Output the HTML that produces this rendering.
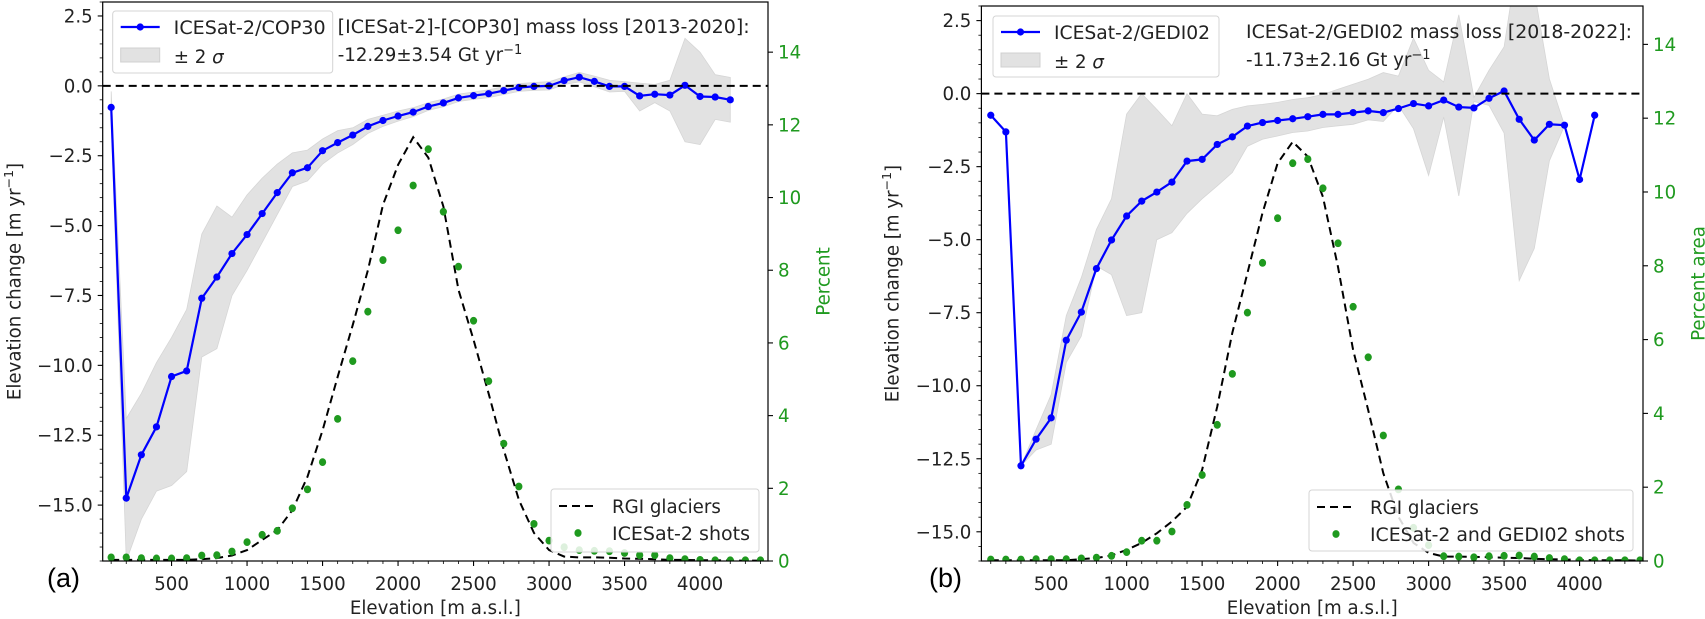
<!DOCTYPE html>
<html><head><meta charset="utf-8">
<style>
html,body{margin:0;padding:0;background:#fff;}
svg{display:block;font-family:"DejaVu Sans","Liberation Sans",sans-serif;}
</style></head>
<body>
<svg id="fig" width="1705" height="619" viewBox="0 0 1705 619" xmlns="http://www.w3.org/2000/svg"></svg>
<script>
// ---------- data ----------
const elevA = [100,200,300,400,500,600,700,800,900,1000,1100,1200,1300,1400,1500,1600,1700,1800,1900,2000,2100,2200,2300,2400,2500,2600,2700,2800,2900,3000,3100,3200,3300,3400,3500,3600,3700,3800,3900,4000,4100,4200];
const dhA = [-0.77,-14.75,-13.2,-12.2,-10.4,-10.2,-7.6,-6.84,-6.0,-5.32,-4.57,-3.82,-3.11,-2.93,-2.32,-2.03,-1.76,-1.45,-1.24,-1.08,-0.94,-0.74,-0.61,-0.43,-0.35,-0.28,-0.17,-0.06,-0.02,0.0,0.19,0.31,0.16,-0.02,-0.02,-0.36,-0.3,-0.33,0.02,-0.38,-0.4,-0.5];
const upA = [-0.2,-11.9,-11.0,-9.9,-9.0,-8.0,-5.3,-4.3,-4.7,-3.9,-3.3,-2.8,-2.4,-2.3,-1.9,-1.6,-1.5,-1.2,-1.05,-0.9,-0.78,-0.6,-0.47,-0.3,-0.22,-0.14,-0.03,0.08,0.12,0.15,0.32,0.48,0.35,0.2,0.15,0.1,0.05,0.2,1.7,1.2,0.4,0.3];
const loA = [-1.2,-17.0,-15.5,-14.5,-14.3,-13.8,-9.7,-9.4,-7.5,-6.6,-5.6,-4.6,-3.6,-3.4,-2.8,-2.4,-2.1,-1.7,-1.45,-1.26,-1.1,-0.88,-0.75,-0.56,-0.48,-0.42,-0.31,-0.2,-0.16,-0.15,0.05,0.14,-0.03,-0.22,-0.2,-0.9,-0.6,-0.9,-2.0,-2.1,-1.2,-1.3];
const shotElevA = [100,200,300,400,500,600,700,800,900,1000,1100,1200,1300,1400,1500,1600,1700,1800,1900,2000,2100,2200,2300,2400,2500,2600,2700,2800,2900,3000,3100,3200,3300,3400,3500,3600,3700,3800,3900,4000,4100,4200,4300,4400];
const shotsA = [0.1,0.1,0.08,0.07,0.07,0.08,0.15,0.16,0.26,0.52,0.72,0.83,1.45,1.97,2.72,3.91,5.5,6.86,8.28,9.1,10.33,11.33,9.61,8.1,6.61,4.95,3.23,2.05,1.02,0.56,0.38,0.3,0.28,0.27,0.22,0.16,0.16,0.08,0.05,0.03,0.02,0.02,0.02,0.02];
const rgiElevA = [100,200,300,400,500,600,700,800,900,1000,1100,1200,1300,1400,1500,1600,1700,1800,1900,2000,2100,2200,2300,2400,2500,2600,2700,2800,2900,3000,3100,3200,3300,3400,3500,3600,3700,3800,3900,4000,4100,4200,4300,4400];
const rgiA = [0.03,0.03,0.03,0.03,0.03,0.03,0.05,0.08,0.15,0.3,0.58,0.85,1.4,2.32,3.6,5.07,6.5,8.0,9.8,10.9,11.66,11.1,9.75,7.46,6.08,4.6,3.05,1.68,0.77,0.3,0.12,0.1,0.1,0.09,0.07,0.06,0.05,0.03,0.03,0.02,0.02,0.01,0.01,0.01];

const elevB = [100,200,300,400,500,600,700,800,900,1000,1100,1200,1300,1400,1500,1600,1700,1800,1900,2000,2100,2200,2300,2400,2500,2600,2700,2800,2900,3000,3100,3200,3300,3400,3500,3600,3700,3800,3900,4000,4100];
const dhB = [-0.74,-1.31,-12.74,-11.83,-11.1,-8.44,-7.48,-5.99,-5.01,-4.19,-3.68,-3.37,-3.03,-2.31,-2.25,-1.74,-1.48,-1.11,-0.99,-0.92,-0.86,-0.79,-0.71,-0.71,-0.65,-0.59,-0.65,-0.51,-0.34,-0.42,-0.22,-0.46,-0.49,-0.16,0.09,-0.88,-1.59,-1.05,-1.08,-2.94,-0.74];
const upB = [-0.74,-1.31,-12.74,-11.5,-10.3,-7.6,-6.3,-4.65,-3.6,-0.7,0.0,-0.54,-1.1,0.0,-0.7,-0.76,-0.54,-0.42,-0.37,-0.3,-0.2,-0.14,-0.03,0.15,0.32,0.49,0.72,0.6,1.9,0.8,0.4,2.7,-0.13,0.8,1.6,5.0,3.5,0.5,-1.08,-2.94,-0.74];
const loB = [-0.74,-1.31,-12.74,-12.2,-12.0,-9.2,-8.3,-5.9,-6.2,-7.6,-7.5,-5.0,-4.76,-4.1,-3.6,-3.16,-2.7,-1.8,-1.56,-1.45,-1.33,-1.28,-1.16,-1.1,-1.05,-0.9,-0.95,-0.4,-1.2,-2.8,-0.8,-3.5,-0.27,-0.4,-1.35,-6.4,-5.3,-2.3,-1.1,-2.94,-0.74];
const shotElevB = [100,200,300,400,500,600,700,800,900,1000,1100,1200,1300,1400,1500,1600,1700,1800,1900,2000,2100,2200,2300,2400,2500,2600,2700,2800,2900,3000,3100,3200,3300,3400,3500,3600,3700,3800,3900,4000,4100,4200,4300,4400];
const shotsB = [0.04,0.04,0.04,0.05,0.05,0.05,0.07,0.09,0.14,0.24,0.55,0.55,0.8,1.52,2.33,3.69,5.07,6.73,8.08,9.29,10.78,10.89,10.1,8.61,6.89,5.52,3.4,1.94,0.9,0.43,0.13,0.12,0.1,0.13,0.14,0.15,0.12,0.08,0.05,0.02,0.02,0.02,0.02,0.02];
const rgiElevB = [100,200,300,400,500,600,700,800,900,1000,1100,1200,1300,1400,1500,1600,1700,1800,1900,2000,2100,2200,2300,2400,2500,2600,2700,2800,2900,3000,3100,3200,3300,3400,3500,3600,3700,3800,3900,4000,4100,4200,4300,4400];
const rgiB = [0.02,0.02,0.02,0.02,0.02,0.02,0.05,0.08,0.15,0.3,0.49,0.75,1.07,1.47,2.47,4.18,6.18,7.8,9.43,10.78,11.36,10.96,9.87,7.97,5.72,4.09,2.38,1.2,0.49,0.22,0.12,0.12,0.11,0.1,0.09,0.08,0.06,0.05,0.04,0.03,0.02,0.02,0.02,0.01];

const xTicks = [500,1000,1500,2000,2500,3000,3500,4000];
const yTicksA = [2.5,0,-2.5,-5,-7.5,-10,-12.5,-15];
const yTicksB = [2.5,0,-2.5,-5,-7.5,-10,-12.5,-15];
const pTicks = [0,2,4,6,8,10,12,14];

// ---------- drawing ----------
const NS = "http://www.w3.org/2000/svg";
const svg = document.getElementById('fig');
function el(tag, attrs, parent){
  const e = document.createElementNS(NS, tag);
  for (const k in attrs) e.setAttribute(k, attrs[k]);
  (parent||svg).appendChild(e);
  return e;
}
function fmt(v){ const s = v.toFixed(1); return v<0 ? '\u2212'+s.slice(1) : s; }
const GREEN = '#1f9a1f';
const FS = 18.2;

function panel(cfg){
  const g = el('g', {});
  
  
  const X = v => cfg.x0 + (v - cfg.xmin) / (cfg.xmax - cfg.xmin) * (cfg.x1 - cfg.x0);
  const Y = v => cfg.yb - (v - cfg.ymin) / (cfg.ymax - cfg.ymin) * (cfg.yb - cfg.yt);
  const P = v => cfg.yb - v / cfg.pmax * (cfg.yb - cfg.yt);
  const clipId = 'clip' + cfg.tag;
  const cp = el('clipPath', {id: clipId}, g);
  el('rect', {x: cfg.x0, y: cfg.yt, width: cfg.x1 - cfg.x0, height: cfg.yb - cfg.yt}, cp);
  const plot = el('g', {'clip-path': 'url(#' + clipId + ')'}, g);

  let d = '';
  cfg.elev.forEach((e,i)=>{ d += (i?'L':'M') + X(e).toFixed(1) + ',' + Y(cfg.up[i]).toFixed(1); });
  for (let i = cfg.elev.length-1; i>=0; i--) d += 'L' + X(cfg.elev[i]).toFixed(1) + ',' + Y(cfg.lo[i]).toFixed(1);
  const band = el('path', {d: d + 'Z', fill: '#e2e2e2', stroke: '#d6d6d6', 'stroke-width': 0.8}, plot);
  
  

  const pts = cfg.elev.map((e,i)=> X(e).toFixed(1) + ',' + Y(cfg.dh[i]).toFixed(1)).join(' ');
  const line = el('polyline', {points: pts, fill: 'none', stroke: '#0000ff', 'stroke-width': 2.2}, plot);
  
  
  cfg.elev.forEach((e,i)=>{
    const c = el('circle', {cx: X(e), cy: Y(cfg.dh[i]), r: 3.6, fill: '#0000ff'}, plot);
    
    
  });

  const z = el('line', {x1: cfg.x0, x2: cfg.x1, y1: Y(0), y2: Y(0), stroke: '#000', 'stroke-width': 2, 'stroke-dasharray': '8,5'}, plot);
  
  

  const rp = cfg.rgiElev.map((e,i)=> X(e).toFixed(1) + ',' + P(cfg.rgi[i]).toFixed(1)).join(' ');
  const rl = el('polyline', {points: rp, fill: 'none', stroke: '#000', 'stroke-width': 2, 'stroke-dasharray': '8,5'}, plot);
  
  

  cfg.shotElev.forEach((e,i)=>{
    const c = el('ellipse', {cx: X(e), cy: P(cfg.shots[i]), rx: 3.6, ry: 3.9, fill: GREEN}, plot);
    
    
  });

  const fr = el('rect', {x: cfg.x0, y: cfg.yt, width: cfg.x1 - cfg.x0, height: cfg.yb - cfg.yt, fill: 'none', stroke: '#000', 'stroke-width': 1.2}, g);
  
  

  for (let v = 100; v <= cfg.xmax; v += 100) {
    const major = xTicks.includes(v);
    el('line', {x1: X(v), x2: X(v), y1: cfg.yb, y2: cfg.yb + (major ? 5 : 3), stroke: '#000', 'stroke-width': major ? 1.1 : 0.8}, g);
  }
  xTicks.forEach(v=>{
    const t = el('text', {x: X(v), y: cfg.yb + 29, 'text-anchor': 'middle', 'font-size': FS, fill: '#222'}, g);
    t.textContent = v;
    
    
  });
  for (let v = Math.ceil(cfg.ymin*2)/2; v <= cfg.ymax; v += 0.5) {
    const major = Math.abs(v/2.5 - Math.round(v/2.5)) < 1e-6;
    el('line', {x1: cfg.x0, x2: cfg.x0 - (major ? 5 : 3), y1: Y(v), y2: Y(v), stroke: '#000', 'stroke-width': major ? 1.1 : 0.8}, g);
  }
  cfg.yTicks.forEach(v=>{
    const t = el('text', {x: cfg.x0 - 10, y: Y(v) + 6.5, 'text-anchor': 'end', 'font-size': FS, fill: '#222'}, g);
    t.textContent = fmt(v);
    
    
  });
  pTicks.forEach(v=>{
    el('line', {x1: cfg.x1, x2: cfg.x1 + 5, y1: P(v), y2: P(v), stroke: '#000', 'stroke-width': 1.1}, g);
    const t = el('text', {x: cfg.x1 + 10, y: P(v) + 6.5, 'font-size': FS, fill: GREEN}, g);
    t.textContent = v;
    
    
  });
  const xl = el('text', {x: (cfg.x0 + cfg.x1)/2, y: 614, 'text-anchor': 'middle', 'font-size': FS, fill: '#222'}, g);
  xl.textContent = 'Elevation [m a.s.l.]';
  
  
  const yc = (cfg.yt + cfg.yb)/2;
  const yl = el('text', {x: cfg.ylabX, y: yc, 'text-anchor': 'middle', 'font-size': FS, fill: '#222', transform: 'rotate(-90 ' + cfg.ylabX + ' ' + yc + ')', 'dominant-baseline': 'central'}, g);
  yl.innerHTML = 'Elevation change [m yr<tspan dy="-7" font-size="12.5">\u22121</tspan><tspan dy="7">]</tspan>';
  
  
  const pl = el('text', {x: cfg.x1 + 56, y: yc, 'text-anchor': 'middle', 'font-size': FS, fill: GREEN, transform: 'rotate(-90 ' + (cfg.x1 + 56) + ' ' + yc + ')', 'dominant-baseline': 'central'}, g);
  pl.textContent = cfg.pLabel;
  
  
  const pt = el('text', {x: cfg.letterX, y: 587, 'font-size': 27, fill: '#000', 'font-family': 'Liberation Sans, sans-serif'}, g);
  pt.textContent = cfg.letter;
  
  

  const L = cfg.leg1;
  const lg = el('g', {}, g);
  
  
  el('rect', {x: L.x, y: L.y, width: L.w, height: L.h, rx: 3, fill: '#fff', 'fill-opacity': 0.85, stroke: '#d4d4d4'}, lg);
  el('line', {x1: L.x + 8, x2: L.x + 47, y1: L.y + 16, y2: L.y + 16, stroke: '#0000ff', 'stroke-width': 2.2}, lg);
  el('circle', {cx: L.x + 27.5, cy: L.y + 16, r: 3.6, fill: '#0000ff'}, lg);
  el('rect', {x: L.x + 8, y: L.y + 37, width: 39, height: 14, fill: '#e2e2e2', stroke: '#d0d0d0'}, lg);
  const t1 = el('text', {x: L.x + 61, y: L.y + 23, 'font-size': FS, fill: '#222', textLength: L.t1w, lengthAdjust: 'spacingAndGlyphs'}, lg);
  t1.textContent = L.t1;
  
  
  const t2 = el('text', {x: L.x + 61, y: L.y + 52, 'font-size': FS, fill: '#222'}, lg);
  t2.innerHTML = '\u00b1 2 <tspan font-style="italic">\u03c3</tspan>';
  
  

  const a1 = el('text', {x: cfg.ann.x, y: cfg.ann.y, 'font-size': FS, fill: '#222', textLength: cfg.ann.w, lengthAdjust: 'spacingAndGlyphs'}, g);
  a1.textContent = cfg.ann.t1;
  
  
  const a2 = el('text', {x: cfg.ann.x, y: cfg.ann.y + 28, 'font-size': FS, fill: '#222'}, g);
  a2.innerHTML = cfg.ann.t2 + ' Gt yr<tspan dy="-7" font-size="13">\u22121</tspan>';
  
  

  const M = cfg.leg2;
  const mg = el('g', {}, g);
  
  
  el('rect', {x: M.x, y: M.y, width: M.w, height: M.h, rx: 3, fill: '#fff', 'fill-opacity': 0.85, stroke: '#d4d4d4'}, mg);
  el('line', {x1: M.x + 8, x2: M.x + 47, y1: M.y + 17, y2: M.y + 17, stroke: '#000', 'stroke-width': 2, 'stroke-dasharray': '8,5'}, mg);
  el('ellipse', {cx: M.x + 27, cy: M.y + 44, rx: 3.6, ry: 3.9, fill: GREEN}, mg);
  const m1 = el('text', {x: M.x + 61, y: M.y + 24, 'font-size': FS, fill: '#222'}, mg);
  m1.textContent = 'RGI glaciers';
  
  
  const m2 = el('text', {x: M.x + 61, y: M.y + 51, 'font-size': FS, fill: '#222', textLength: M.t2w, lengthAdjust: 'spacingAndGlyphs'}, mg);
  m2.textContent = M.t2;
  
  
}

panel({name: 'panel-a', tag: 'A', x0: 102.7, x1: 768, yt: 2, yb: 561, xmin: 44, xmax: 4450, ymin: -17.0, ymax: 3.0, pmax: 15.38,
  elev: elevA, dh: dhA, up: upA, lo: loA, shotElev: shotElevA, shots: shotsA, rgiElev: rgiElevA, rgi: rgiA,
  yTicks: yTicksA, ylabX: 15, pLabel: 'Percent', letter: '(a)', letterX: 47,
  leg1: {x: 112.7, y: 11, w: 220, h: 62, t1: 'ICESat-2/COP30', t1w: 152},
  ann: {x: 337.7, y: 33, w: 412, t1: '[ICESat-2]-[COP30] mass loss [2013-2020]:', t2: '-12.29\u00b13.54'},
  leg2: {x: 551, y: 489, w: 208, h: 63, t2: 'ICESat-2 shots', t2w: 138}
});
panel({name: 'panel-b', tag: 'B', x0: 981.4, x1: 1643, yt: 6, yb: 561, xmin: 38, xmax: 4420, ymin: -16.0, ymax: 3.0, pmax: 15.04,
  elev: elevB, dh: dhB, up: upB, lo: loB, shotElev: shotElevB, shots: shotsB, rgiElev: rgiElevB, rgi: rgiB,
  yTicks: yTicksB, ylabX: 893, pLabel: 'Percent area', letter: '(b)', letterX: 929,
  leg1: {x: 993, y: 16, w: 226, h: 61, t1: 'ICESat-2/GEDI02', t1w: 156},
  ann: {x: 1246, y: 38, w: 386, t1: 'ICESat-2/GEDI02 mass loss [2018-2022]:', t2: '-11.73\u00b12.16'},
  leg2: {x: 1309, y: 490, w: 324, h: 61, t2: 'ICESat-2 and GEDI02 shots', t2w: 255}
});
</script>
</body></html>
